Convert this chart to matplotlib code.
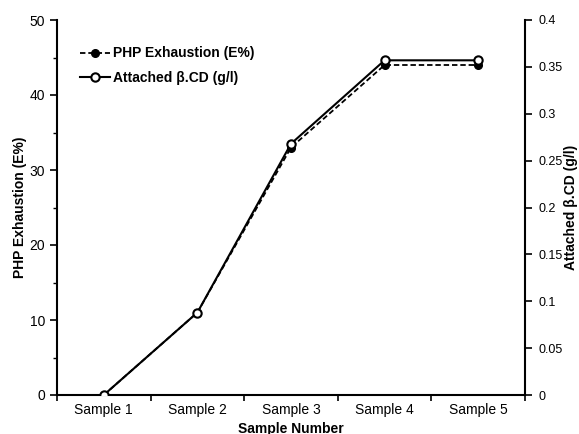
import matplotlib
matplotlib.use("Agg")
import matplotlib.pyplot as plt
from matplotlib.ticker import MultipleLocator, FixedLocator

plt.rcParams['font.family'] = ['Liberation Sans', 'DejaVu Sans']

categories = ["Sample 1", "Sample 2", "Sample 3", "Sample 4", "Sample 5"]
php_exhaustion = [0, 11, 33, 44, 44]          # E%
attached_bcd = [0, 0.088, 0.268, 0.357, 0.357]  # g/l
right_ticks = [0, 0.05, 0.1, 0.15, 0.2, 0.25, 0.3, 0.35, 0.4]
right_tick_labels = ['0', '0.05', '0.1', '0.15', '0.2', '0.25', '0.3', '0.35', '0.4']

fig = plt.figure(figsize=(5.79, 4.34), dpi=100)
ax = fig.add_axes([57/579, 39/434, (525-57)/579, 375/434])
ax2 = ax.twinx()

x = list(range(1, len(categories) + 1))

l1, = ax.plot(x, php_exhaustion, linestyle=(0, (3, 1.6)), color='black', lw=1.3,
              marker='o', markersize=5.5, markerfacecolor='black', markeredgecolor='black',
              label='PHP Exhaustion (E%)', zorder=3)
l2, = ax2.plot(x, attached_bcd, linestyle='-', color='black', lw=1.5,
               marker='o', markersize=6, markerfacecolor='white', markeredgecolor='black',
               markeredgewidth=1.5, label='Attached β.CD (g/l)', zorder=4)

ax.set_xlim(0.5, 5.5)
ax.set_ylim(0, 50)
ax2.set_ylim(0, 0.4)

ax.set_xticks(x)
ax.set_xticklabels(categories)
ax.xaxis.set_minor_locator(FixedLocator([0.5 + i for i in range(6)]))
ax.tick_params(axis='x', which='major', length=0, pad=6, labelsize=10)
ax.tick_params(axis='x', which='minor', length=4, width=1.2, direction='out')

ax.yaxis.set_major_locator(MultipleLocator(10))
ax.yaxis.set_minor_locator(MultipleLocator(5))
ax.tick_params(axis='y', which='major', length=5, width=1.2, direction='out', labelsize=10)
ax.tick_params(axis='y', which='minor', length=3, width=1.0, direction='out')

ax2.yaxis.set_major_locator(FixedLocator(right_ticks))
ax2.set_yticklabels(right_tick_labels)
ax2.tick_params(axis='y', which='major', length=5, width=1.2, direction='out', labelsize=9, pad=5)

for a in (ax, ax2):
    a.spines['top'].set_visible(False)
    for s in ('left', 'right', 'bottom'):
        a.spines[s].set_linewidth(1.5)
ax.spines['right'].set_visible(False)
ax2.spines['left'].set_visible(False)
ax2.spines['bottom'].set_visible(False)

ax.set_ylabel('PHP Exhaustion (E%)', fontsize=10, fontweight='bold', va='center')
ax.yaxis.set_label_coords((20 - 57) / 468, 0.5)
ax2.set_ylabel('Attached β.CD (g/l)', fontsize=10, fontweight='bold', rotation=90, va='center')
ax2.yaxis.set_label_coords((571 - 57) / 468, 0.5)
ax.set_xlabel('Sample Number', fontsize=10, fontweight='bold', labelpad=3)

leg = ax.legend(handles=[l1, l2], loc='upper left', bbox_to_anchor=(0.022, 0.963),
                frameon=False, handlelength=2.2, handletextpad=0.2, labelspacing=0.75,
                prop={'weight': 'bold', 'size': 10})

fig.savefig('out.png', dpi=100)
